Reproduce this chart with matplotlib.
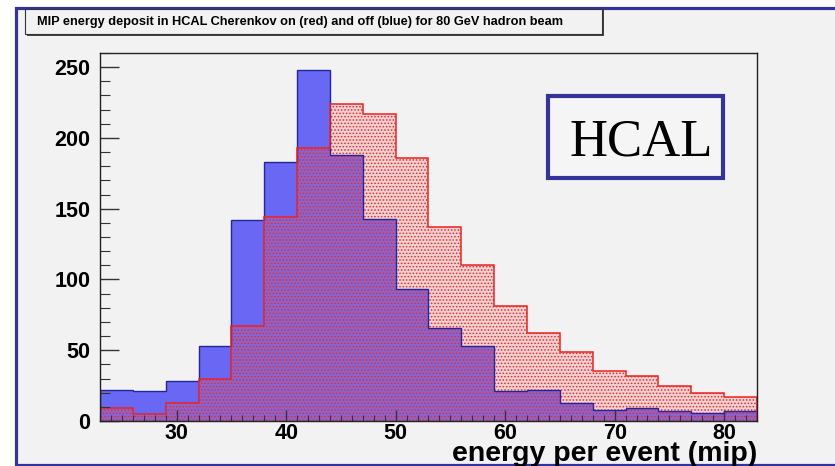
import matplotlib.pyplot as plt
from matplotlib.patches import Rectangle
from matplotlib.ticker import MultipleLocator

# Histogram binning: 20 bins of 3 mip from 23 to 83
bin_edges = list(range(23, 84, 3))

# Event counts per bin, Cherenkov off (blue) and on (red)
cherenkov_off = [22, 21, 28, 53, 142, 183, 248, 188, 143, 93,
                 66, 53, 21, 22, 13, 8, 9, 7, 6, 7]
cherenkov_on = [9, 5, 13, 30, 67, 144, 193, 224, 217, 186,
                137, 110, 81, 62, 49, 35, 32, 25, 20, 17]

x_ticks = [30, 40, 50, 60, 70, 80]
y_ticks = [0, 50, 100, 150, 200, 250]

title_text = "MIP energy deposit in HCAL Cherenkov on (red) and off (blue) for 80 GeV hadron beam"
x_label = "energy per event (mip)"
box_label = "HCAL"

W, H = 835, 466
plt.rcParams['hatch.linewidth'] = 0.7


# pixel helpers (origin top-left) -> figure fraction
def fx(x):
    return x / W


def fy(y):
    return 1 - y / H


fig = plt.figure(figsize=(W / 100, H / 100), dpi=100)
fig.patch.set_facecolor('white')

# slide frame, kept behind the axes
fig.add_artist(Rectangle((fx(15.5), fy(464.5)), fx(840) - fx(15.5), fy(7.5) - fy(464.5),
                         facecolor='#f2f2f2', edgecolor='#333399', lw=2.3,
                         transform=fig.transFigure, zorder=-5))

# title box with drop shadow
fig.add_artist(Rectangle((fx(27), fy(36)), fx(577), fy(9) - fy(36),
                         facecolor='#444444', edgecolor='none',
                         transform=fig.transFigure, zorder=2))
fig.add_artist(Rectangle((fx(25), fy(34)), fx(577), fy(9) - fy(34),
                         facecolor='#f2f2f2', edgecolor='#333333', lw=0.8,
                         transform=fig.transFigure, zorder=3))
fig.text(fx(300), fy(22), title_text, ha='center', va='center', zorder=4,
         fontsize=9.2, fontweight='bold', family='Liberation Sans')

ax = fig.add_axes([fx(100), fy(421), fx(657), fy(53) - fy(421)])
ax.set_facecolor('#f2f2f2')

# Cherenkov off: solid blue
ax.stairs(cherenkov_off, bin_edges, fill=True, facecolor='#6868f4', edgecolor='none')
# Cherenkov on: dotted red pattern over translucent pink
ax.stairs(cherenkov_on, bin_edges, fill=True, facecolor=(1.0, 0.35, 0.35, 0.22),
          edgecolor='#e03030', hatch='.....', lw=0)
ax.stairs(cherenkov_off, bin_edges, color='#25259a', lw=1.0)
ax.stairs(cherenkov_on, bin_edges, color='#ee2222', lw=1.1)

ax.set_xlim(23, 83)
ax.set_ylim(0, 260)
ax.set_xticks(x_ticks)
ax.set_yticks(y_ticks)
ax.xaxis.set_minor_locator(MultipleLocator(1))
ax.yaxis.set_minor_locator(MultipleLocator(10))
ax.tick_params(axis='x', which='major', direction='in', length=8, width=1, pad=1.5, color='#333333')
ax.tick_params(axis='x', which='minor', direction='in', length=4, width=0.8, color='#333333')
ax.tick_params(axis='y', which='major', direction='in', length=14, width=1, pad=7, color='#333333')
ax.tick_params(axis='y', which='minor', direction='in', length=7, width=0.8, color='#333333')
for lbl in ax.get_xticklabels() + ax.get_yticklabels():
    lbl.set_fontsize(15.5)
    lbl.set_fontweight('bold')
    lbl.set_family('Liberation Sans')
for sp in ax.spines.values():
    sp.set_color('#222222')
    sp.set_linewidth(1.0)

ax.text(1.0, -(461 - 421) / 368, x_label, transform=ax.transAxes, ha='right', va='baseline',
        fontsize=20.5, fontweight='bold', family='Liberation Sans')

# HCAL label box
fig.add_artist(Rectangle((fx(548), fy(178)), fx(175), fy(96) - fy(178),
                         facecolor='#f5f5f5', edgecolor='#333399', lw=3,
                         transform=fig.transFigure, zorder=3))
fig.text(fx(641), fy(156), box_label, ha='center', va='baseline', zorder=4,
         fontsize=38, family='Liberation Serif')

fig.savefig('out.png', dpi=100)
